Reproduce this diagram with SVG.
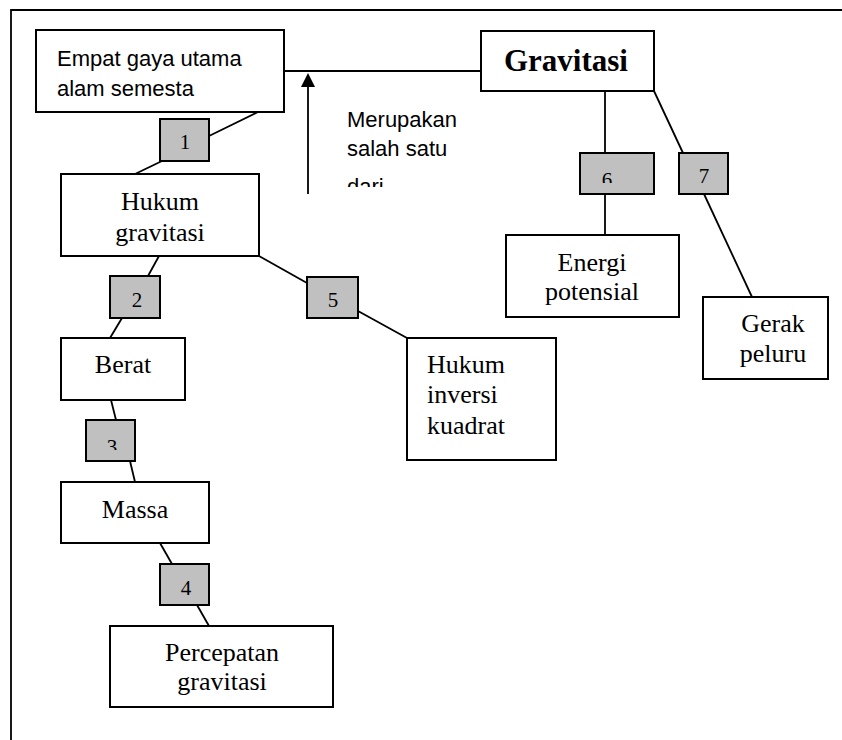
<svg xmlns="http://www.w3.org/2000/svg" width="842" height="740" viewBox="0 0 842 740">
<style>
.box{fill:#fff;stroke:#000;stroke-width:2}
.num{fill:#c0c0c0;stroke:#000;stroke-width:2}
.ln{stroke:#000;stroke-width:1.8;fill:none}
.t{font-family:"Liberation Serif","Times New Roman",serif;font-size:26px;fill:#000}
.tc{text-anchor:middle}
.s{font-family:"Liberation Sans",Arial,sans-serif;font-size:22px;fill:#000}
.d{font-family:"Liberation Serif","Times New Roman",serif;font-size:21px;fill:#000;text-anchor:middle}
</style>
<defs>
<clipPath id="clipMer"><rect x="340" y="100" width="160" height="87"/></clipPath>
<clipPath id="clip3"><rect x="86" y="420" width="49" height="30"/></clipPath>
<clipPath id="clip6"><rect x="580" y="153" width="74" height="30"/></clipPath>
</defs>
<rect width="842" height="740" fill="#fff"/>
<path class="ln" d="M11,740 V10 H842" stroke-width="2"/>

<g id="connectors">
<line class="ln" x1="258" y1="112" x2="209" y2="136"/>
<line class="ln" x1="162" y1="161" x2="135" y2="174"/>
<line class="ln" x1="284" y1="71" x2="481" y2="71"/>
<line class="ln" x1="308" y1="194" x2="308" y2="86"/>
<polygon points="308,73 301,87 315,87" fill="#000"/>
<line class="ln" x1="605" y1="91" x2="605" y2="153"/>
<line class="ln" x1="605" y1="194" x2="605" y2="235"/>
<line class="ln" x1="654" y1="91" x2="683" y2="153"/>
<line class="ln" x1="704" y1="194" x2="752" y2="297"/>
<line class="ln" x1="159" y1="256" x2="148" y2="276"/>
<line class="ln" x1="122" y1="318" x2="110" y2="338"/>
<line class="ln" x1="259" y1="256" x2="307" y2="283"/>
<line class="ln" x1="358" y1="311" x2="407" y2="338"/>
<line class="ln" x1="111" y1="400" x2="116" y2="420"/>
<line class="ln" x1="130" y1="461" x2="135" y2="482"/>
<line class="ln" x1="160" y1="543" x2="172" y2="564"/>
<line class="ln" x1="197" y1="605" x2="209" y2="626"/>
</g>

<g id="label-merupakan" clip-path="url(#clipMer)">
<text class="s" x="347" y="127">Merupakan</text>
<text class="s" x="347" y="156">salah satu</text>
<text class="s" x="347" y="194">dari</text>
</g>

<g id="empat">
<rect class="box" x="36" y="30" width="248" height="82"/>
<text class="s" x="57" y="66">Empat gaya utama</text>
<text class="s" x="57" y="96">alam semesta</text>
</g>

<g id="gravitasi">
<rect class="box" x="481" y="31" width="173" height="60"/>
<text x="566" y="71" text-anchor="middle" font-family="'Liberation Serif','Times New Roman',serif" font-weight="bold" font-size="31">Gravitasi</text>
</g>

<g id="n1">
<rect class="num" x="160" y="119" width="49" height="42"/>
<text class="d" x="185" y="149">1</text>
</g>

<g id="hukum-gravitasi">
<rect class="box" x="61" y="174" width="198" height="82"/>
<text class="t tc" x="160" y="210">Hukum</text>
<text class="t tc" x="160" y="241">gravitasi</text>
</g>

<g id="n2">
<rect class="num" x="110" y="276" width="50" height="42"/>
<text class="d" x="137" y="307">2</text>
</g>

<g id="n5">
<rect class="num" x="307" y="277" width="51" height="41"/>
<text class="d" x="333" y="307">5</text>
</g>

<g id="berat">
<rect class="box" x="61" y="338" width="124" height="62"/>
<text class="t tc" x="123" y="373">Berat</text>
</g>

<g id="n3">
<rect class="num" x="86" y="420" width="49" height="41"/>
<text class="d" x="112" y="454" clip-path="url(#clip3)">3</text>
</g>

<g id="massa">
<rect class="box" x="61" y="482" width="148" height="61"/>
<text class="t tc" x="135" y="518">Massa</text>
</g>

<g id="n4">
<rect class="num" x="160" y="564" width="49" height="41"/>
<text class="d" x="186" y="595">4</text>
</g>

<g id="percepatan">
<rect class="box" x="110" y="626" width="223" height="81"/>
<text class="t tc" x="222" y="661">Percepatan</text>
<text class="t tc" x="222" y="690">gravitasi</text>
</g>

<g id="inversi">
<rect class="box" x="407" y="338" width="149" height="122"/>
<text class="t" x="427" y="373">Hukum</text>
<text class="t" x="427" y="403">inversi</text>
<text class="t" x="427" y="434">kuadrat</text>
</g>

<g id="n6">
<rect class="num" x="580" y="153" width="74" height="41"/>
<text class="d" x="607" y="187" clip-path="url(#clip6)">6</text>
</g>

<g id="n7">
<rect class="num" x="679" y="153" width="49" height="41"/>
<text class="d" x="704" y="183">7</text>
</g>

<g id="energi">
<rect class="box" x="506" y="235" width="173" height="82"/>
<text class="t tc" x="592" y="271">Energi</text>
<text class="t tc" x="592" y="300">potensial</text>
</g>

<g id="gerak">
<rect class="box" x="703" y="297" width="125" height="82"/>
<text class="t tc" x="773" y="332">Gerak</text>
<text class="t tc" x="773" y="362">peluru</text>
</g>
</svg>
